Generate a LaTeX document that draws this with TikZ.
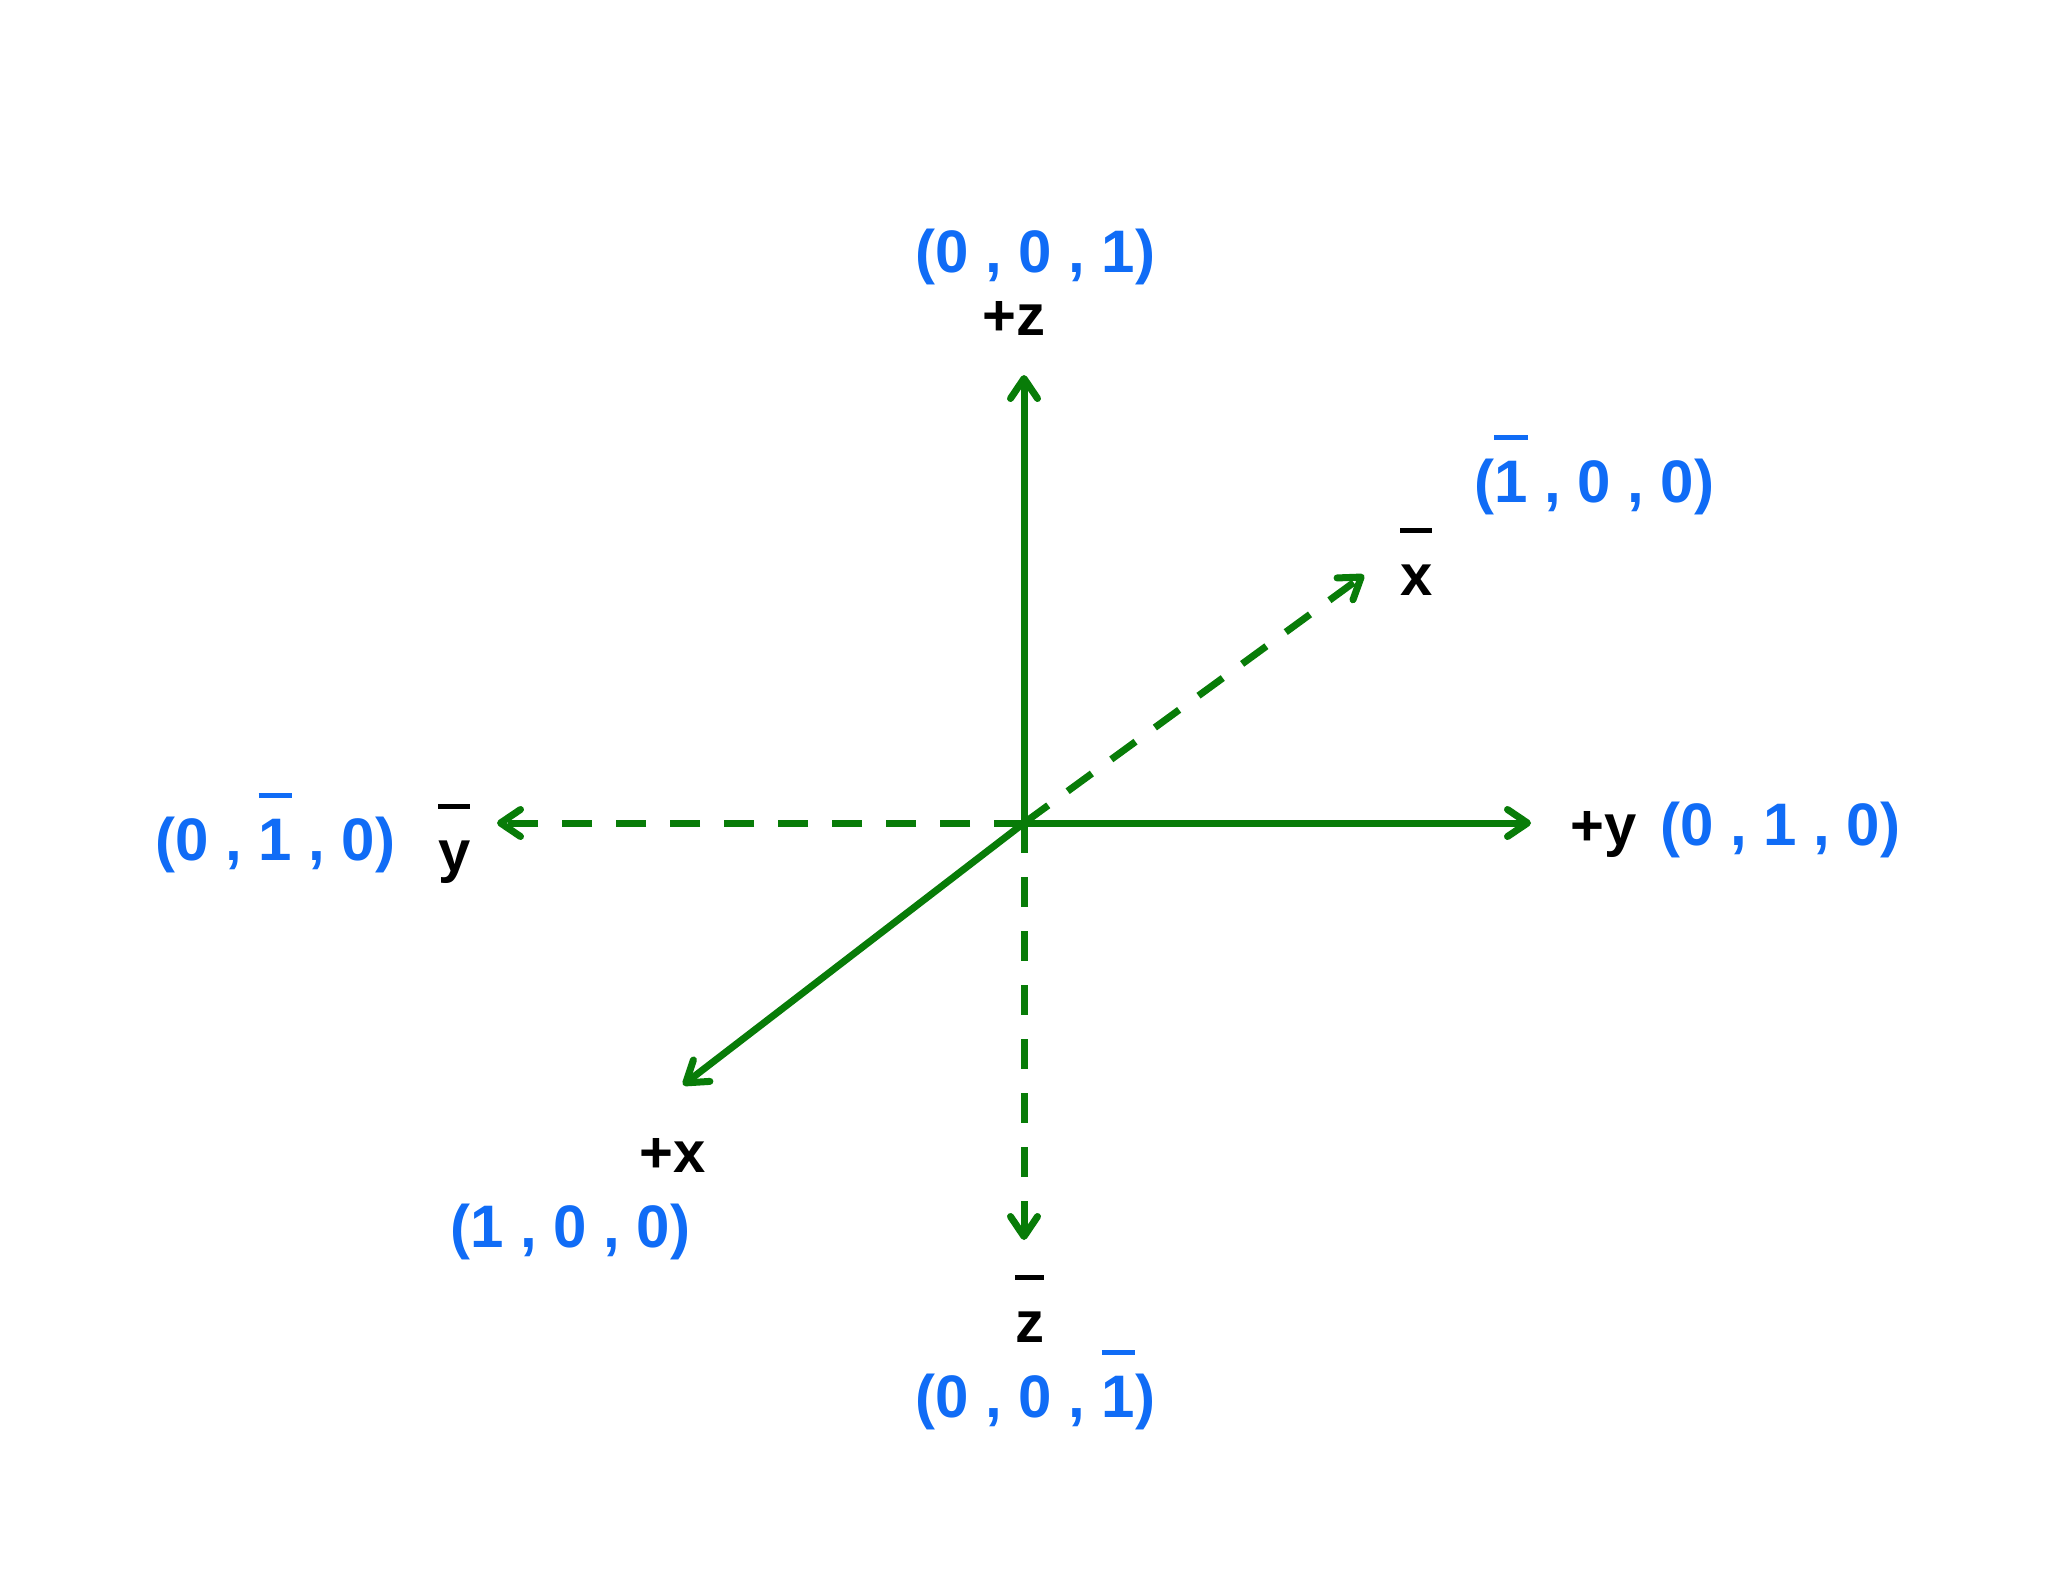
\documentclass[tikz,border=0pt]{standalone}
\usepackage{fontspec}
\setmainfont{Liberation Sans}
\usetikzlibrary{arrows.meta}
\definecolor{axisgreen}{RGB}{8,124,8}
\definecolor{labelblue}{RGB}{16,108,246}
\newcommand\ovb[1]{\setbox0\hbox{#1}\rlap{\raisebox{62.5pt}{\rule{\wd0}{5pt}}}\box0\relax}
\tikzset{
  axis/.style={draw=axisgreen, line width=7pt, -{Straight Barb[length=20pt,width=27pt,round]}},
  negaxis/.style={axis, dash pattern=on 30pt off 24pt},
  coordlabel/.style={anchor=base west, inner sep=0pt, text=labelblue, font=\fontsize{60pt}{72pt}\selectfont\bfseries},
  axislabel/.style={anchor=base west, inner sep=0pt, text=black, font=\fontsize{58pt}{70pt}\selectfont\bfseries}
}
\begin{document}
\begin{tikzpicture}[x=1pt,y=-1pt]
\useasboundingbox[fill=white] (0,0) rectangle (2048,1582);
\coordinate (O) at (1024,823);
\coordinate (zp) at (1024,375);
\coordinate (zn) at (1024,1240);
\coordinate (yp) at (1531,823);
\coordinate (yn) at (497,823);
\coordinate (xp) at (683,1085);
\coordinate (xn) at (1364,575);
\draw[negaxis] (O) -- (yn);
\draw[negaxis] (O) -- (zn);
\draw[negaxis] (O) -- (xn);
\draw[axis] (O) -- (zp);
\draw[axis] (O) -- (yp);
\draw[axis] (O) -- (xp);
% +z
\node[coordlabel] (czp) at (915,272) {(0 , 0 , 1)};
\node[axislabel] (lzp) at (982,335) {+z};
% -x
\node[coordlabel] (cxn) at (1474,502) {(\ovb{1} , 0 , 0)};
\node[axislabel] (lxn) at (1400,595) {\ovb{x}};
% -y
\node[coordlabel] (cyn) at (155,860) {(0 , \ovb{1} , 0)};
\node[axislabel] (lyn) at (438,871) {\ovb{y}};
% +y
\node[axislabel] (lyp) at (1570,845) {+y};
\node[coordlabel] (cyp) at (1660,845) {(0 , 1 , 0)};
% +x
\node[axislabel] (lxp) at (639,1172) {+x};
\node[coordlabel] (cxp) at (450,1247) {(1 , 0 , 0)};
% -z
\node[axislabel] (lzn) at (1015,1342) {\ovb{z}};
\node[coordlabel] (czn) at (915,1417) {(0 , 0 , \ovb{1})};
\end{tikzpicture}
\end{document}
